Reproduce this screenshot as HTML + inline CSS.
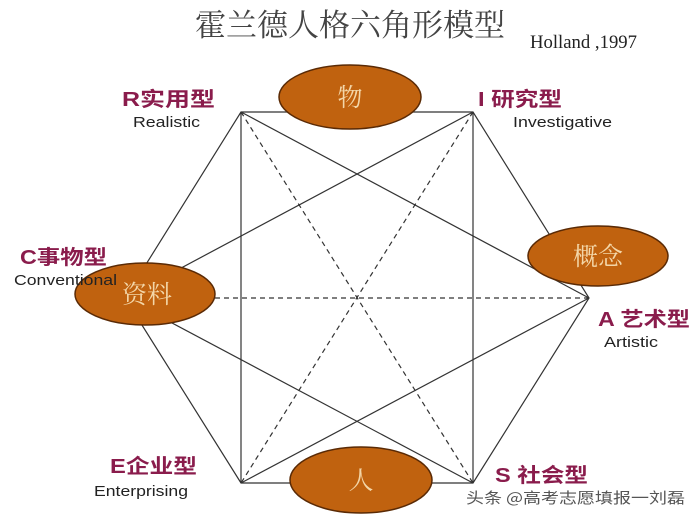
<!DOCTYPE html>
<html><head><meta charset="utf-8"><style>
body{margin:0;background:#fff;}
svg{display:block}
.m{font-family:"Liberation Sans","Noto Sans CJK SC",sans-serif;font-weight:bold;fill:#8a1c4c;font-size:20px}
.e{font-family:"Liberation Sans",sans-serif;fill:#222;font-size:15px}
.o{font-family:"Noto Serif CJK SC","Noto Sans CJK SC",serif;fill:#f3d6a8;font-size:25px;text-anchor:middle}
</style></head><body>
<svg width="700" height="522" viewBox="0 0 700 522" xmlns="http://www.w3.org/2000/svg">
<rect width="700" height="522" fill="#fff"/>
<text x="350" y="36" text-anchor="middle" font-family="Noto Serif CJK SC,serif" font-size="31" fill="#444">霍兰德人格六角形模型</text>
<text x="530" y="48" font-family="Liberation Serif,serif" font-size="19" fill="#222" textLength="107" lengthAdjust="spacingAndGlyphs">Holland ,1997</text>
<g stroke="#333" stroke-width="1.2" fill="none">
<polygon points="241,112 473,112 589,298 473,483 241,483 125,298"/>
<line x1="241" y1="112" x2="241" y2="483"/>
<line x1="473" y1="112" x2="473" y2="483"/>
<line x1="241" y1="112" x2="589" y2="298"/>
<line x1="473" y1="112" x2="125" y2="298"/>
<line x1="125" y1="298" x2="473" y2="483"/>
<line x1="589" y1="298" x2="241" y2="483"/>
<g stroke-dasharray="5,4">
<line x1="241" y1="112" x2="473" y2="483"/>
<line x1="473" y1="112" x2="241" y2="483"/>
<line x1="125" y1="298" x2="589" y2="298"/>
</g>
</g>
<g fill="#c0620f" stroke="#5a2a05" stroke-width="1.5">
<ellipse cx="350" cy="97" rx="71" ry="32"/>
<ellipse cx="598" cy="256" rx="70" ry="30"/>
<ellipse cx="145" cy="294" rx="70" ry="31"/>
<ellipse cx="361" cy="480" rx="71" ry="33"/>
</g>
<text class="o" x="350" y="106">物</text>
<text class="o" x="598" y="265">概念</text>
<text class="o" x="147" y="303">资料</text>
<text class="o" x="361" y="489">人</text>
<text class="m" x="122" y="106" textLength="93" lengthAdjust="spacingAndGlyphs">R实用型</text>
<text class="e" x="133" y="127" textLength="67" lengthAdjust="spacingAndGlyphs">Realistic</text>
<text class="m" x="478" y="106" textLength="84" lengthAdjust="spacingAndGlyphs">I 研究型</text>
<text class="e" x="513" y="127" textLength="99" lengthAdjust="spacingAndGlyphs">Investigative</text>
<text class="m" x="20" y="264" textLength="87" lengthAdjust="spacingAndGlyphs">C事物型</text>
<text class="e" x="14" y="285" textLength="103" lengthAdjust="spacingAndGlyphs">Conventional</text>
<text class="m" x="598" y="326" textLength="92" lengthAdjust="spacingAndGlyphs">A 艺术型</text>
<text class="e" x="604" y="347" textLength="54" lengthAdjust="spacingAndGlyphs">Artistic</text>
<text class="m" x="110" y="473" textLength="87" lengthAdjust="spacingAndGlyphs">E企业型</text>
<text class="e" x="94" y="496" textLength="94" lengthAdjust="spacingAndGlyphs">Enterprising</text>
<text class="m" x="495" y="482" textLength="93" lengthAdjust="spacingAndGlyphs">S 社会型</text>
<text x="466" y="503" font-family="Noto Sans CJK SC,sans-serif" font-size="15" fill="#555" textLength="219" lengthAdjust="spacingAndGlyphs">头条 @高考志愿填报一刘磊</text>
</svg>
</body></html>
